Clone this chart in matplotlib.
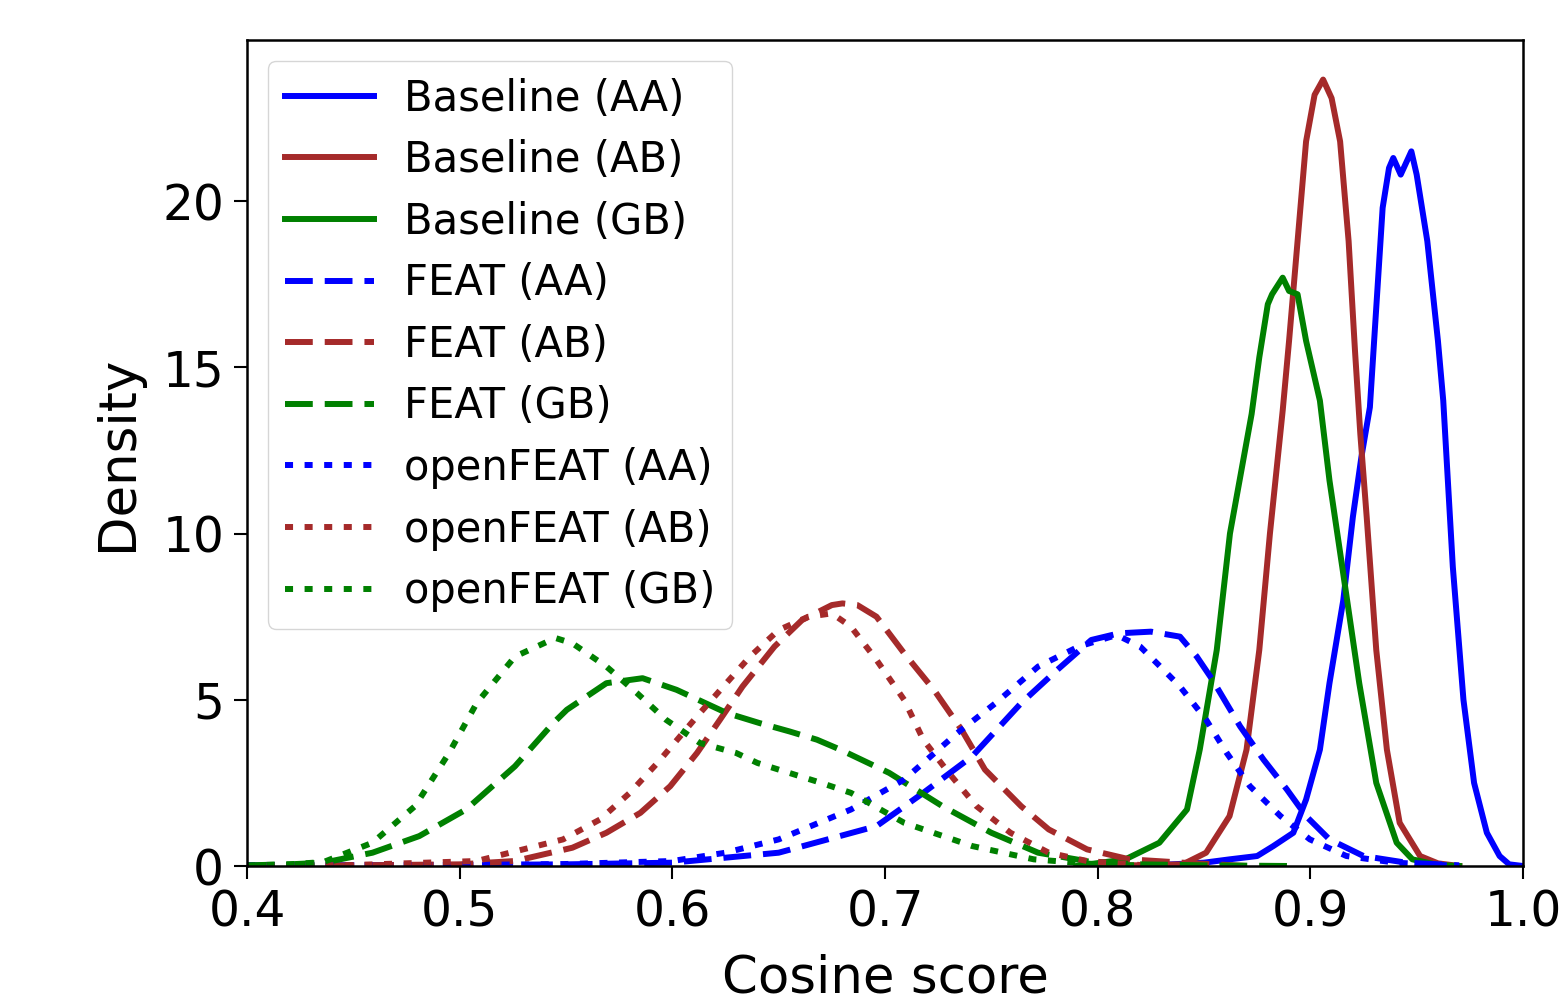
import matplotlib
matplotlib.use("Agg")
import matplotlib.pyplot as plt

# values (cosine score, density)
base_aa_x = [0.82, 0.85, 0.862, 0.875, 0.8826, 0.892, 0.898, 0.9045, 0.909, 0.9155, 0.920, 0.924,
             0.928, 0.931, 0.934, 0.937, 0.939, 0.9425, 0.9475, 0.950, 0.955, 0.960, 0.9625, 0.967,
             0.972, 0.977, 0.983, 0.989, 0.9935, 1.0]
base_aa_y = [0.0, 0.1, 0.2, 0.3, 0.6, 1.0, 2.0, 3.5, 5.5, 8.0, 10.5, 12.3,
             13.8, 16.8, 19.8, 21.0, 21.3, 20.8, 21.5, 20.8, 18.8, 15.8, 14.0, 9.0,
             5.0, 2.5, 1.0, 0.3, 0.05, 0.0]

base_ab_x = [0.80, 0.84, 0.851, 0.862, 0.870, 0.876, 0.881, 0.887, 0.890, 0.894, 0.898, 0.902,
             0.906, 0.910, 0.914, 0.918, 0.921, 0.9235, 0.9265, 0.931, 0.936, 0.942, 0.9516,
             0.960, 0.970]
base_ab_y = [0.0, 0.05, 0.4, 1.5, 3.5, 6.5, 10.0, 13.7, 15.8, 18.8, 21.8, 23.2,
             23.66, 23.1, 21.8, 18.8, 15.5, 13.0, 10.5, 6.5, 3.5, 1.3, 0.3,
             0.08, 0.0]

base_gb_x = [0.79, 0.813, 0.829, 0.842, 0.848, 0.856, 0.8622, 0.8724, 0.876, 0.880, 0.882, 0.887,
             0.890, 0.894, 0.898, 0.9045, 0.909, 0.915, 0.923, 0.931, 0.9406, 0.948, 0.960, 0.970]
base_gb_y = [0.0, 0.2, 0.7, 1.7, 3.5, 6.5, 10.0, 13.6, 15.3, 16.9, 17.2, 17.7,
             17.3, 17.2, 15.8, 14.0, 11.6, 9.0, 5.5, 2.5, 0.7, 0.2, 0.03, 0.0]

feat_aa_x = [0.40, 0.50, 0.55, 0.60, 0.65, 0.696, 0.718, 0.741, 0.764, 0.781, 0.797, 0.81,
             0.825, 0.8387, 0.8466, 0.854, 0.867, 0.878, 0.889, 0.898, 0.909, 0.925, 0.945, 0.97]
feat_aa_y = [0.02, 0.03, 0.05, 0.1, 0.4, 1.2, 2.2, 3.3, 4.9, 5.9, 6.8, 7.0,
             7.05, 6.9, 6.3, 5.6, 4.2, 3.2, 2.3, 1.5, 0.8, 0.3, 0.1, 0.02]

feat_ab_x = [0.40, 0.45, 0.50, 0.526, 0.553, 0.569, 0.585, 0.599, 0.6116, 0.6224, 0.633, 0.648,
             0.661, 0.675, 0.680, 0.687, 0.696, 0.709, 0.723, 0.736, 0.747, 0.764, 0.777,
             0.795, 0.815, 0.84, 0.87]
feat_ab_y = [0.0, 0.02, 0.05, 0.15, 0.55, 1.0, 1.6, 2.4, 3.4, 4.4, 5.4, 6.6,
             7.4, 7.85, 7.9, 7.85, 7.5, 6.4, 5.3, 4.1, 2.9, 1.8, 1.1,
             0.5, 0.2, 0.1, 0.0]

feat_gb_x = [0.40, 0.42, 0.436, 0.459, 0.481, 0.503, 0.526, 0.544, 0.5504, 0.569, 0.586, 0.602,
             0.6257, 0.641, 0.655, 0.668, 0.679, 0.702, 0.727, 0.75, 0.772, 0.797, 0.82, 0.85, 0.89]
feat_gb_y = [0.02, 0.05, 0.1, 0.4, 0.9, 1.7, 3.0, 4.3, 4.7, 5.5, 5.65, 5.3,
             4.6, 4.3, 4.05, 3.8, 3.5, 2.8, 1.8, 1.0, 0.4, 0.12, 0.05, 0.02, 0.0]

open_aa_x = [0.40, 0.50, 0.55, 0.60, 0.625, 0.65, 0.684, 0.709, 0.734, 0.752, 0.772, 0.791,
             0.809, 0.82, 0.831, 0.8387, 0.851, 0.8607, 0.8716, 0.886, 0.8998, 0.917, 0.94, 0.97]
open_aa_y = [0.02, 0.03, 0.06, 0.15, 0.4, 0.8, 1.7, 2.6, 4.0, 4.9, 6.0, 6.6,
             6.95, 6.6, 5.9, 5.4, 4.4, 3.4, 2.4, 1.5, 0.8, 0.3, 0.1, 0.0]

open_ab_x = [0.40, 0.45, 0.508, 0.5486, 0.566, 0.580, 0.593, 0.6116, 0.624, 0.6365, 0.650, 0.664,
             0.675, 0.684, 0.696, 0.709, 0.718, 0.73, 0.743, 0.759, 0.777, 0.795, 0.82]
open_ab_y = [0.0, 0.03, 0.15, 0.8, 1.4, 2.2, 3.1, 4.5, 5.4, 6.3, 7.1, 7.5,
             7.6, 7.2, 6.2, 5.0, 3.8, 2.8, 1.8, 1.0, 0.4, 0.15, 0.03]

open_gb_x = [0.40, 0.42, 0.436, 0.459, 0.479, 0.495, 0.508, 0.526, 0.545, 0.553, 0.569, 0.5834,
             0.597, 0.613, 0.630, 0.640, 0.655, 0.670, 0.684, 0.709, 0.741, 0.77, 0.80, 0.83]
open_gb_y = [0.02, 0.05, 0.12, 0.7, 1.8, 3.4, 4.9, 6.3, 6.86, 6.7, 6.0, 5.2,
             4.4, 3.7, 3.4, 3.1, 2.8, 2.5, 2.2, 1.3, 0.6, 0.2, 0.05, 0.0]

series = [
    ("Baseline (AA)", base_aa_x, base_aa_y, "blue", "-"),
    ("Baseline (AB)", base_ab_x, base_ab_y, "brown", "-"),
    ("Baseline (GB)", base_gb_x, base_gb_y, "green", "-"),
    ("FEAT (AA)", feat_aa_x, feat_aa_y, "blue", "dashed"),
    ("FEAT (AB)", feat_ab_x, feat_ab_y, "brown", "dashed"),
    ("FEAT (GB)", feat_gb_x, feat_gb_y, "green", "dashed"),
    ("openFEAT (AA)", open_aa_x, open_aa_y, "blue", "dotted"),
    ("openFEAT (AB)", open_ab_x, open_ab_y, "brown", "dotted"),
    ("openFEAT (GB)", open_gb_x, open_gb_y, "green", "dotted"),
]

# dash patterns in points (not scaled by linewidth)
plt.rcParams['lines.scale_dashes'] = False
styles = {"-": "-", "dashed": (0, (20, 8.6)), "dotted": (0, (5.8, 8.3))}

fig = plt.figure(figsize=(15.6, 10.01), dpi=100)
ax = fig.add_axes([247 / 1560, 135 / 1001, 1276 / 1560, 826 / 1001])

for label, xs, ys, color, ls in series:
    ax.plot(xs, ys, color=color, linestyle=styles[ls], linewidth=4.3, label=label)

ax.set_xlim(0.4, 1.0)
ax.set_ylim(0, 24.85)
ax.set_xticks([0.4, 0.5, 0.6, 0.7, 0.8, 0.9, 1.0])
ax.set_yticks([0, 5, 10, 15, 20])
ax.tick_params(labelsize=35, length=9.5, width=1.5, pad=7)
for sp in ax.spines.values():
    sp.set_linewidth(1.8)

ax.set_xlabel("Cosine score", fontsize=37, labelpad=12)
ax.set_ylabel("Density", fontsize=37, labelpad=14)

ax.legend(loc="upper left", fontsize=30, handlelength=2.15, handletextpad=0.72,
          labelspacing=0.47, borderaxespad=0.5)

fig.savefig("out.png", dpi=100)
